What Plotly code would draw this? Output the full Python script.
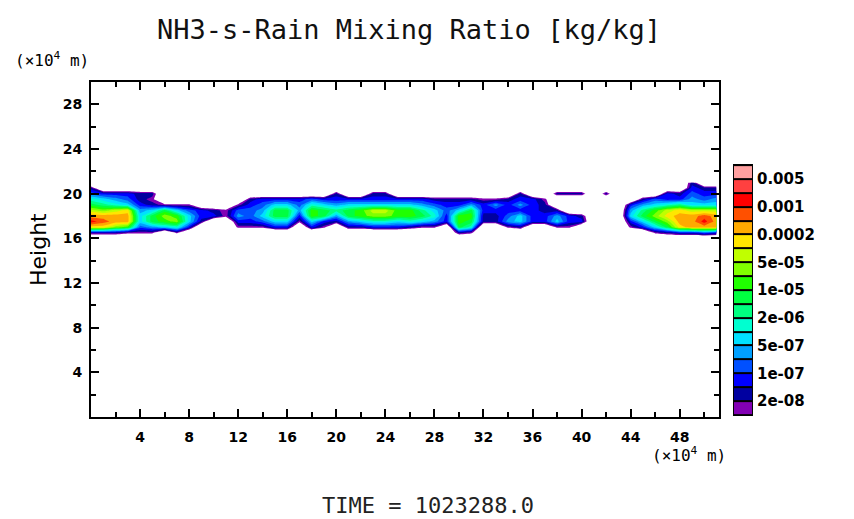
import numpy as np
import plotly.graph_objects as go

# ==== Data ====
# x nodes in units of 1e4 m, height nodes in 1e4 m (rows listed top to bottom)
x_nodes = list(range(0, 52))
y_nodes = [21.0, 20.5, 20.0, 19.5, 19.0, 18.5, 18.0, 17.5, 17.0, 16.5, 16.0]

# level class per node: 0 = none, 1 = below 2e-08 ... 18 = above 0.005
CODE_CHARS = "0123456789ABCDEFGHI"
level_rows = [
    "0000000000 0000000000 0000000000 0000000000 0000000002 00",
    "2000000000 0000000000 0000000000 0000000000 0000000003 22",
    "4333220000 0000000000 2002200000 0000020022 2020000324 33",
    "7654210000 0002333343 3333333322 2211233100 0000024335 45",
    "9876321110 0013466476 5666666543 3535353200 0000356786 66",
    "CBCD569643 21445995A9 89ACCAA864 6933333220 000058ACDC CC",
    "EEEE69BA63 31546993A9 59ABBAA973 AA22463353 200069BDEE FE",
    "GFEE69AB62 0033466163 2567767653 A922563363 3000369BEE GE",
    "DDBA456730 0011133031 0223332110 9700120011 00001369DE EE",
    "2221110100 0000000000 0000000000 2100000000 0000001233 43",
    "0000000000 0000000000 0000000000 0000000000 0000000000 00",
]
EMPTY_VALUE = -3.0   # where nothing is drawn

# colour for each class (index 0 = empty)
level_colors = [
    "#ffffff",
    "#8200b4", "#0000a0", "#0000ff", "#0050ff", "#00a0ff", "#00e0ff",
    "#00ffd0", "#00ff80", "#00ff40", "#20ff00", "#80ff00", "#c0ff00",
    "#ffe600", "#ffaa00", "#ff5000", "#ff0000", "#ff4040", "#ffa0a0",
]
cbar_tickvals = [0.5, 2.5, 4.5, 6.5, 8.5, 10.5, 12.5, 14.5, 16.5]
cbar_labels = ["2e-08", "1e-07", "5e-07", "2e-06", "1e-05",
               "5e-05", "0.0002", "0.001", "0.005"]

x_ticks = [4, 8, 12, 16, 20, 24, 28, 32, 36, 40, 44, 48]
y_ticks = [4, 8, 12, 16, 20, 24, 28]

# ==== Build grid ====
z = np.array([[CODE_CHARS.index(c) for c in "".join(r.split())] for r in level_rows], dtype=float)
z[z == 0] = EMPTY_VALUE
z = z[::-1]
y_up = y_nodes[::-1]

nlev = len(level_colors) - 1
cscale = [[k / nlev, c] for k, c in enumerate(level_colors)]

fig = go.Figure()

fig.add_trace(go.Contour(
    x=x_nodes, y=y_up, z=z,
    colorscale=cscale, zmin=0, zmax=nlev,
    autocontour=False,
    contours=dict(start=0.5, end=nlev - 0.5, size=1, coloring="fill", showlines=False),
    line=dict(width=0, smoothing=0),
    showscale=False, hoverinfo="skip",
))

# colour key drawn as its own little axis
cb_codes = list(range(1, nlev + 1))
fig.add_trace(go.Heatmap(
    x=[0], y=[c - 1 for c in cb_codes], z=[[c] for c in cb_codes],
    colorscale=cscale, zmin=0, zmax=nlev, ygap=2,
    showscale=False, hoverinfo="skip",
    xaxis="x2", yaxis="y2",
))

axis_font = dict(family="DejaVu Sans", size=14, color="black", weight="bold")
common = dict(
    showgrid=False, zeroline=False, showline=True, linecolor="black", linewidth=2,
    mirror="ticks", ticks="inside", ticklen=8, tickwidth=2, tickcolor="black",
    tickfont=axis_font,
)

# page is drawn with an 8px body margin, so the figure is 8px smaller
fig.update_layout(
    width=846, height=511,
    margin=dict(l=83, r=20, t=74, b=102),
    paper_bgcolor="white", plot_bgcolor="white",
    showlegend=False,
    xaxis=dict(domain=[0, 0.8452], range=[0, 51.2], tickmode="array", tickvals=x_ticks,
               ticklabelstandoff=6,
               minor=dict(tickvals=[t - 2 for t in x_ticks] + [50], ticks="inside",
                          ticklen=5, tickwidth=2, tickcolor="black"),
               **common),
    yaxis=dict(range=[0, 30], tickmode="array", tickvals=y_ticks,
               ticklabelstandoff=4,
               minor=dict(tickvals=[t - 2 for t in y_ticks], ticks="inside",
                          ticklen=5, tickwidth=2, tickcolor="black"),
               **common),
    xaxis2=dict(domain=[0.8654, 0.8896], range=[-0.5, 0.5], visible=False, anchor="y2"),
    yaxis2=dict(domain=[0.006, 0.752], range=[-0.5, nlev - 0.5], anchor="x2", side="right",
                tickmode="array", tickvals=cbar_tickvals, ticktext=cbar_labels,
                ticks="", showline=False, showgrid=False, zeroline=False,
                ticklabelstandoff=4,
                tickfont=dict(family="DejaVu Sans", size=15, color="black", weight="bold")),
    shapes=[dict(type="rect", xref="x2 domain", yref="y2 domain", x0=0, x1=1, y0=0, y1=1,
                 fillcolor="black", line=dict(color="black", width=2), layer="below")],
)

fig.add_annotation(text="NH3-s-Rain Mixing Ratio [kg/kg]", xref="paper", yref="paper",
                   x=0.428, y=1.158, showarrow=False, xanchor="center", yanchor="middle",
                   font=dict(size=27, family="DejaVu Sans Mono", color="#111111"))
fig.add_annotation(text="(×10<sup>4</sup> m)", xref="paper", yref="paper",
                   x=-0.105, y=1.0657, showarrow=False, xanchor="left", yanchor="middle",
                   font=dict(size=16, family="DejaVu Sans Mono", color="black"))
fig.add_annotation(text="(×10<sup>4</sup> m)", xref="paper", yref="paper",
                   x=0.7524, y=-0.1134, showarrow=False, xanchor="left", yanchor="middle",
                   font=dict(size=16, family="DejaVu Sans Mono", color="black"))
fig.add_annotation(text="Height", xref="paper", yref="paper", textangle=-90,
                   x=-0.070, y=0.5015, showarrow=False, xanchor="center", yanchor="middle",
                   font=dict(size=22, family="DejaVu Sans", color="black"))
fig.add_annotation(text="TIME = 1023288.0", xref="paper", yref="paper",
                   x=0.4529, y=-0.2627, showarrow=False, xanchor="center", yanchor="middle",
                   font=dict(size=22, family="DejaVu Sans Mono", color="#222222"))

fig.write_html("out.html")
